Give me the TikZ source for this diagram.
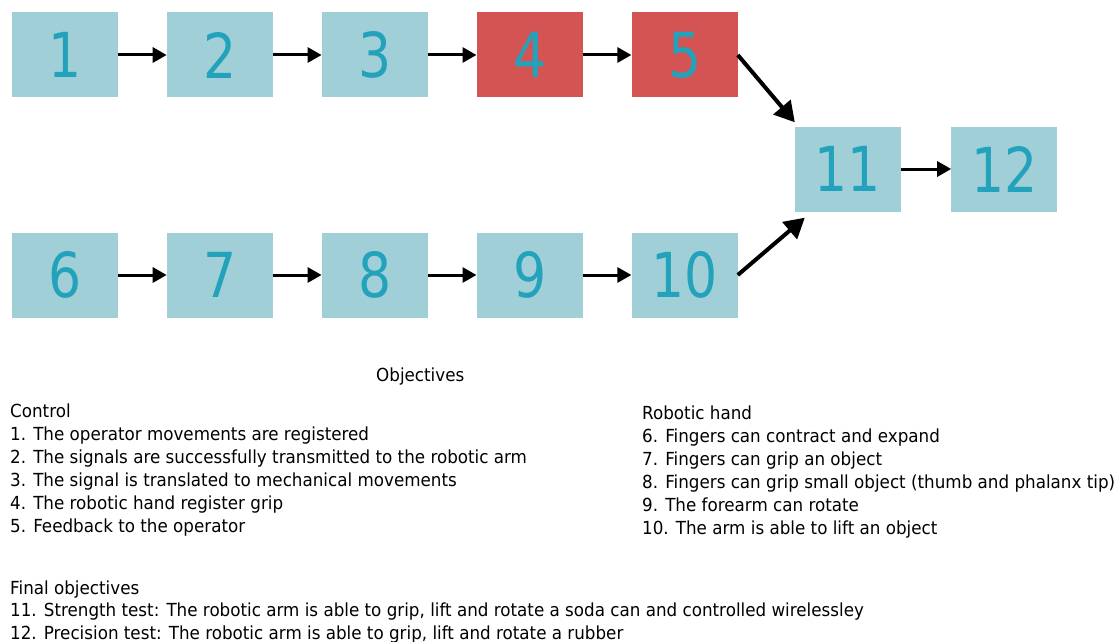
\documentclass[tikz,border=0pt]{standalone}
\usepackage{fontspec}
\setmainfont{DejaVu Sans}[FakeStretch=0.93]
\newfontfamily\numfont{DejaVu Sans}[FakeStretch=0.84]
\usepackage{tikz}
\usetikzlibrary{arrows.meta}
\usetikzlibrary{positioning}

\definecolor{boxblue}{HTML}{A1CFD7}
\definecolor{boxred}{HTML}{D45353}
\definecolor{numblue}{HTML}{22A2BB}

\begin{document}
\begin{tikzpicture}[x=1pt,y=-1pt,node distance=48.5pt,
  goal/.style={rectangle,fill=boxblue,minimum width=106pt,minimum height=85pt,inner sep=0pt,
    text=numblue,font=\numfont\fontsize{62}{62}\selectfont},
  done/.style={goal,fill=boxred},
  arr/.style={-{Triangle[length=14pt,width=15pt]},line width=3pt,black},
  bigarr/.style={-{Triangle[length=20pt,width=22pt]},line width=4pt,black},
  txt/.style={anchor=base west,inner sep=0pt,font=\fontsize{18}{22}\selectfont}]
  \useasboundingbox (0,0) rectangle (1117,642);

  % control chain
  \node[goal] (1) at (65,55) {1};
  \node[goal,right=of 1] (2) {2};
  \node[goal,right=of 2] (3) {3};
  \node[done,right=of 3] (4) {4};
  \node[done,right=of 4] (5) {5};

  % robotic hand chain
  \node[goal] (6) at (65,275) {6};
  \node[goal,right=of 6] (7) {7};
  \node[goal,right=of 7] (8) {8};
  \node[goal,right=of 8] (9) {9};
  \node[goal,right=of 9] (10) {10};

  % final tests
  \node[goal] (11) at (848,169) {11};
  \node[goal,right=50pt of 11] (12) {12};

  \draw[arr](1)--(2);
  \draw[arr](2)--(3);
  \draw[arr](3)--(4);
  \draw[arr](4)--(5);
  \draw[arr](6)--(7);
  \draw[arr](7)--(8);
  \draw[arr](8)--(9);
  \draw[arr](9)--(10);
  \draw[arr](11)--(12);
  \draw[bigarr](5.east)--([yshift=4pt]11.north west);
  \draw[bigarr](10.east)--([xshift=10pt,yshift=-6pt]11.south west);

  % legend
  \node[txt] (obj) at (376,381) {Objectives};

  \node[txt] (ctl) at (10,417) {Control};
  \node[txt] (t1) at (10,440) {1. The operator movements are registered};
  \node[txt] (t2) at (10,463) {2. The signals are successfully transmitted to the robotic arm};
  \node[txt] (t3) at (10,486) {3. The signal is translated to mechanical movements};
  \node[txt] (t4) at (10,509) {4. The robotic hand register grip};
  \node[txt] (t5) at (10,532) {5. Feedback to the operator};

  \node[txt] (hand) at (642,419) {Robotic hand};
  \node[txt] (t6) at (642,442) {6. Fingers can contract and expand};
  \node[txt] (t7) at (642,465) {7. Fingers can grip an object};
  \node[txt] (t8) at (642,488) {8. Fingers can grip small object (thumb and phalanx tip)};
  \node[txt] (t9) at (642,511) {9. The forearm can rotate};
  \node[txt] (t10) at (642,534) {10. The arm is able to lift an object};

  \node[txt] (fin) at (10,594) {Final objectives};
  \node[txt] (t11) at (10,616) {11. Strength test: The robotic arm is able to grip, lift and rotate a soda can and controlled wirelessley};
  \node[txt] (t12) at (10,639) {12. Precision test: The robotic arm is able to grip, lift and rotate a rubber};
\end{tikzpicture}
\end{document}
